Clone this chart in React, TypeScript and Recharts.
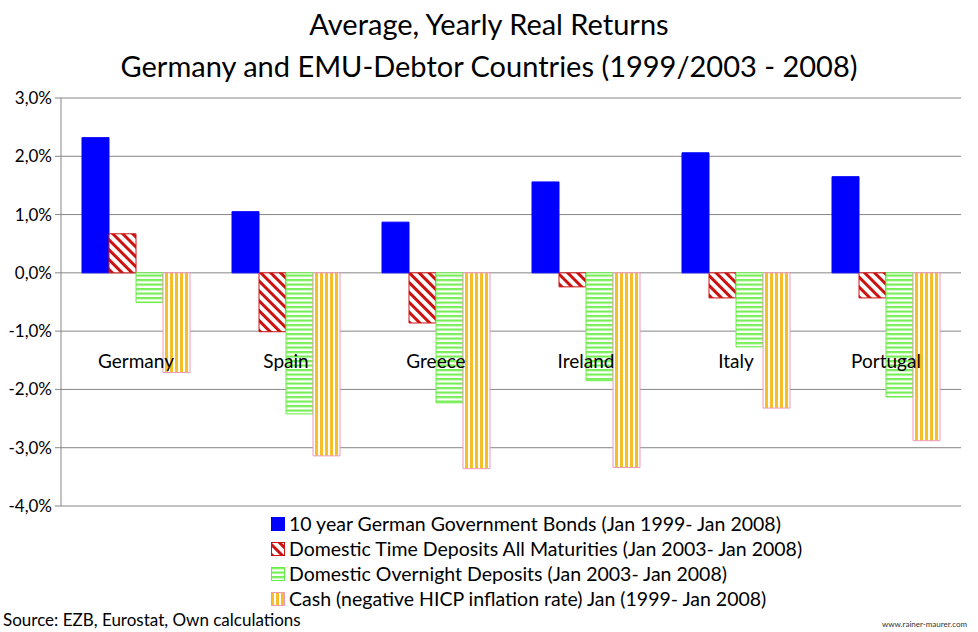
import React from "react";
import { BarChart, Bar, XAxis, YAxis, CartesianGrid } from "recharts";

const countries = ["Germany", "Spain", "Greece", "Ireland", "Italy", "Portugal"];
const bonds = [2.32, 1.05, 0.87, 1.56, 2.06, 1.65];
const timeDeposits = [0.67, -1.01, -0.86, -0.24, -0.43, -0.43];
const overnight = [-0.51, -2.42, -2.23, -1.85, -1.27, -2.13];
const cash = [-1.71, -3.14, -3.36, -3.34, -2.32, -2.88];
const yTicks = [3, 2, 1, 0, -1, -2, -3, -4];

const seriesNames = [
  "10 year German Government Bonds (Jan 1999- Jan 2008)",
  "Domestic Time Deposits All Maturities (Jan 2003- Jan 2008)",
  "Domestic Overnight Deposits (Jan 2003- Jan 2008)",
  "Cash (negative HICP inflation rate) Jan (1999- Jan 2008)",
];

const data = countries.map((c, i) => ({
  country: c,
  bonds: bonds[i],
  time: timeDeposits[i],
  overnight: overnight[i],
  cash: cash[i],
}));

const FONT = "Lato, 'Open Sans', sans-serif";

const fills = ["#0000ff", "url(#patRed)", "url(#patGreen)", "url(#patOrange)"];
const strokes = ["#0000ff", "#cc1111", "#66ee44", "#ee99bb"];
const keys = ["bonds", "time", "overnight", "cash"];

const fmt = (v: number) => v.toFixed(1).replace(".", ",") + "%";

const CatTick = (props: any) => {
  const { x, y, payload } = props;
  return (
    <text x={x} y={y} dy={-146} textAnchor="middle" fontSize={19} fontFamily={FONT} fill="#000">
      {payload.value}
    </text>
  );
};

const LegendBlock = () => (
  <div
    style={{
      position: "absolute",
      left: 271,
      top: 511,
      fontFamily: FONT,
      fontSize: 19.5,
      color: "#000",
    }}
  >
    {seriesNames.map((n, i) => (
      <div key={n} style={{ display: "flex", alignItems: "center", height: 25, whiteSpace: "nowrap" }}>
        <svg width={14} height={14} style={{ marginRight: 4 }}>
          <rect x={0.5} y={0.5} width={13} height={13} fill={fills[i]} stroke={strokes[i]} />
        </svg>
        <span>{n}</span>
      </div>
    ))}
  </div>
);

export default function App() {
  return (
    <div style={{ position: "absolute", left: 0, top: 0, width: 978, height: 632, background: "#fff" }}>
      <div
        style={{
          position: "absolute",
          left: 0,
          top: 3,
          width: 978,
          textAlign: "center",
          fontFamily: FONT,
          fontSize: 29,
          lineHeight: "42px",
          color: "#000",
        }}
      >
        <div>Average, Yearly Real Returns</div>
        <div>Germany and EMU-Debtor Countries (1999/2003 - 2008)</div>
      </div>
      <div style={{ position: "absolute", left: 0, top: 0 }}>
        <BarChart
          width={978}
          height={632}
          data={data}
          margin={{ top: 98, right: 17, bottom: 96, left: 0 }}
          barCategoryGap={21}
          barGap={0}
        >
          <defs>
            <pattern id="patRed" patternUnits="userSpaceOnUse" width={7} height={7} patternTransform="rotate(45)">
              <rect width={7} height={7} fill="#fff" />
              <rect width={7} height={3} fill="#cc1111" />
            </pattern>
            <pattern id="patGreen" patternUnits="userSpaceOnUse" width={4} height={4.5}>
              <rect width={4} height={4.5} fill="#fff" />
              <rect width={4} height={2.2} fill="#77ee55" />
            </pattern>
            <pattern id="patOrange" patternUnits="userSpaceOnUse" width={5} height={5}>
              <rect width={5} height={5} fill="#fff" />
              <rect width={3} height={5} fill="#f5bf2a" />
            </pattern>
          </defs>
          <CartesianGrid vertical={false} stroke="#868686" strokeWidth={1} />
          <XAxis
            dataKey="country"
            height={30}
            axisLine={false}
            tickLine={false}
            tick={<CatTick />}
            interval={0}
          />
          <YAxis
            width={61}
            domain={[-4, 3]}
            ticks={yTicks}
            tickFormatter={fmt}
            axisLine={{ stroke: "#868686" }}
            tickLine={{ stroke: "#868686" }}
            tickSize={6}
            tickMargin={3}
            tick={{ fontSize: 17, fontFamily: FONT, fill: "#000" }}
            interval={0}
          />
          {keys.map((k, i) => (
            <Bar
              key={k}
              dataKey={k}
              name={seriesNames[i]}
              fill={fills[i]}
              stroke={strokes[i]}
              strokeWidth={1}
              isAnimationActive={false}
            />
          ))}
        </BarChart>
      </div>
      <LegendBlock />
      <div
        style={{
          position: "absolute",
          left: 3,
          top: 609,
          fontFamily: FONT,
          fontSize: 17,
          color: "#000",
        }}
      >
        Source: EZB, Eurostat, Own calculations
      </div>
      <div
        style={{
          position: "absolute",
          left: 882,
          top: 619,
          fontFamily: FONT,
          fontSize: 8,
          color: "#333",
        }}
      >
        www.rainer-maurer.com
      </div>
    </div>
  );
}
